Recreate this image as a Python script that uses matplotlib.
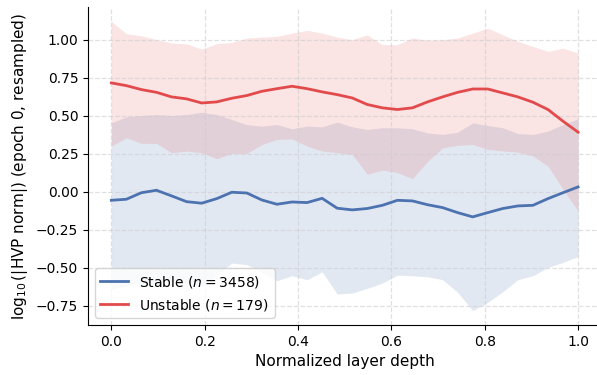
import numpy as np
import matplotlib
matplotlib.use("Agg")
import matplotlib.pyplot as plt

# layer depth, 32 resampled points
depth = np.linspace(0, 1, 32)

stable_mean = [-0.057, -0.050, -0.007, 0.009, -0.028, -0.066, -0.076, -0.046,
               -0.004, -0.009, -0.055, -0.083, -0.068, -0.072, -0.044, -0.109,
               -0.120, -0.111, -0.090, -0.057, -0.061, -0.086, -0.105, -0.138,
               -0.166, -0.138, -0.111, -0.094, -0.090, -0.046, -0.007, 0.031]
stable_hi = [0.452, 0.492, 0.500, 0.507, 0.500, 0.507, 0.522, 0.507,
             0.474, 0.441, 0.430, 0.441, 0.413, 0.431, 0.426, 0.457,
             0.426, 0.409, 0.420, 0.420, 0.413, 0.386, 0.376, 0.391,
             0.452, 0.435, 0.420, 0.382, 0.376, 0.398, 0.441, 0.479]
stable_lo = [-0.64, -0.62, -0.60, -0.62, -0.58, -0.60, -0.62, -0.55,
             -0.47, -0.48, -0.53, -0.586, -0.553, -0.579, -0.527, -0.673,
             -0.667, -0.636, -0.601, -0.549, -0.553, -0.560, -0.579, -0.662,
             -0.782, -0.728, -0.658, -0.579, -0.553, -0.498, -0.465, -0.426]

unstable_mean = [0.715, 0.697, 0.671, 0.653, 0.623, 0.610, 0.583, 0.590,
                 0.614, 0.632, 0.660, 0.677, 0.693, 0.677, 0.656, 0.638,
                 0.616, 0.573, 0.551, 0.540, 0.551, 0.590, 0.623, 0.653,
                 0.675, 0.675, 0.649, 0.623, 0.588, 0.540, 0.463, 0.391]
unstable_hi = [1.119, 1.038, 1.025, 0.999, 0.977, 0.972, 0.937, 0.972,
               0.981, 1.010, 1.016, 1.021, 1.042, 1.060, 1.042, 1.016,
               0.999, 1.031, 0.966, 0.966, 1.010, 0.996, 0.999, 1.010,
               1.042, 1.075, 1.031, 0.988, 0.955, 0.922, 0.944, 0.911]
unstable_lo = [0.299, 0.354, 0.317, 0.317, 0.256, 0.267, 0.256, 0.216,
               0.251, 0.251, 0.310, 0.343, 0.347, 0.299, 0.267, 0.256,
               0.245, 0.114, 0.142, 0.125, 0.085, 0.198, 0.288, 0.304,
               0.310, 0.278, 0.267, 0.260, 0.234, 0.168, 0.015, -0.127]

c_blue = "#4c72b0"
c_red = "#e24a4c"

fig = plt.figure(figsize=(5.97, 3.75), dpi=100)
ax = fig.add_axes([0.1474, 0.1333, 0.860, 0.848])

ax.fill_between(depth, stable_lo, stable_hi, color=c_blue, alpha=0.16, lw=0)
ax.fill_between(depth, unstable_lo, unstable_hi, color=c_red, alpha=0.15, lw=0)
ax.plot(depth, stable_mean, color=c_blue, lw=2.0, label="Stable ($n = 3458$)")
ax.plot(depth, unstable_mean, color=c_red, lw=2.0, label="Unstable ($n = 179$)")

ax.grid(True, ls="--", color="#cccccc", alpha=0.6, lw=0.9)
ax.spines["top"].set_visible(False)
ax.spines["right"].set_visible(False)
ax.set_xlabel("Normalized layer depth", fontsize=11)
ax.set_ylabel(r"$\log_{10}$(|HVP norm|) (epoch 0, resampled)", fontsize=11)
ax.tick_params(labelsize=10)
ax.legend(loc="lower left", fontsize=10)

fig.savefig("out.png", dpi=100)
